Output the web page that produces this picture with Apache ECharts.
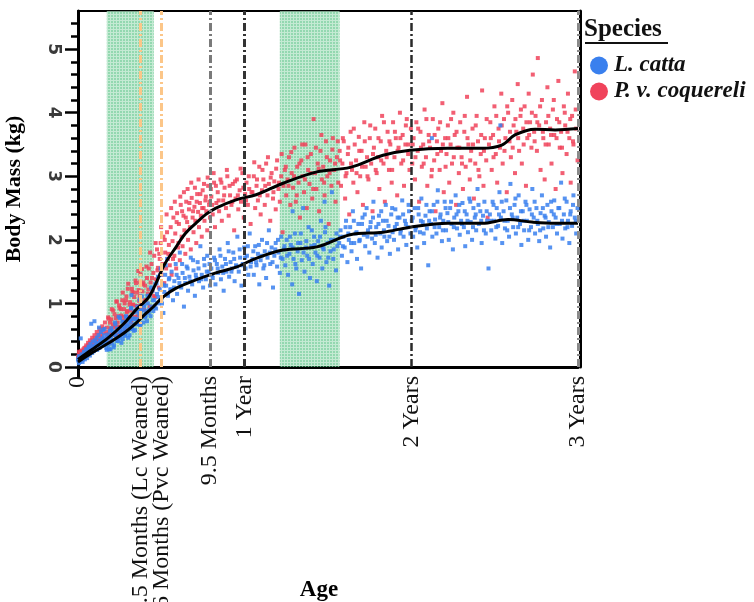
<!DOCTYPE html>
<html>
<head>
<meta charset="utf-8">
<script src="https://cdn.jsdelivr.net/npm/echarts@6/dist/echarts.min.js"></script>
<style>
html,body{margin:0;padding:0;background:#fff}
#chart{width:754px;height:602px}
</style>
</head>
<body>
<div id="chart"></div>
<script>
// Individual weighings: [age in days, body mass in kg]
const lcPoints = [
[1,0.1],[2,0.06],[3,0.15],[4,0.09],[5,0.13],[6,0.45],[7,0.11],[9,0.18],[10,0.08],[12,0.16],[14,0.22],[15,0.12],[17,0.19],[19,0.26],[20,0.14],[22,0.23],[24,0.3],[26,0.18],[28,0.27],[29,0.68],[31,0.22],[33,0.33],[35,0.25],[36,0.72],[38,0.3],[40,0.38],[42,0.27],[44,0.35],[46,0.62],[47,0.3],[49,0.42],[51,0.33],[53,0.45],[55,0.36],[57,0.5],[59,0.38],
[61,0.39],[63,0.27],[65,0.51],[67,0.35],[69,0.49],[71,0.28],[73,0.61],[75,0.42],[77,0.51],[79,0.34],[81,0.7],[83,0.5],[85,0.41],[87,0.6],[89,0.79],[91,0.46],[93,0.57],[95,0.38],[97,0.71],[99,0.56],[101,0.65],[103,0.49],[105,0.8],[107,0.64],[109,0.57],[111,0.75],[113,0.5],[115,0.71],[117,0.92],[117,1.13],[119,0.6],[121,0.76],[123,0.67],[125,0.58],[127,0.89],[129,0.76],[131,0.67],[133,0.87],[135,1.06],[137,0.67],[139,0.81],[141,0.89],
[143,0.7],[145,0.95],[147,0.78],[149,0.88],[151,0.72],[153,1.0],[155,0.85],[157,1.12],[159,0.8],[161,0.95],[163,1.2],[165,0.88],[167,1.05],[169,1.3],[171,0.92],[173,1.15],[175,1.42],[177,1.0],[179,1.22],[181,1.55],[183,1.08],[185,1.3],[187,0.85],[189,1.18],[191,1.45],[193,1.28],[195,1.7],[197,1.12],[199,1.38],
[202,1.22],[205,1.5],[208,1.05],[211,1.35],[214,1.62],[217,1.15],[220,1.4],[223,1.8],[226,1.25],[229,1.48],[232,0.95],[235,1.32],[238,1.58],[241,1.2],[244,1.42],[247,1.72],[250,1.3],[253,1.52],[256,1.12],[259,1.4],[262,1.65],[265,1.35],[268,1.9],[271,1.45],[274,1.25],[277,1.6],[280,1.38],[283,1.75],[286,1.5],[289,1.28],
[292,1.55],[295,1.4],[298,1.72],[301,1.3],[304,1.62],[307,1.48],[310,1.85],[313,1.38],[316,1.58],[319,1.2],[322,1.7],[325,1.5],[328,1.95],[331,1.42],[334,1.65],[337,1.55],[340,1.8],[343,1.35],[346,1.6],[349,2.05],[352,1.5],[355,1.72],[358,1.28],[361,1.62],[364,1.88],[367,1.55],[370,1.75],[373,1.45],[376,2.1],[379,1.65],
[382,1.7],[385,1.45],[388,1.9],[391,1.6],[394,1.78],[397,1.3],[400,1.68],[403,2.0],[406,1.55],[409,1.82],[412,1.4],[415,1.72],[418,2.15],[421,1.62],[424,1.88],[427,1.25],[430,1.75],[433,1.95],[436,1.58],[439,1.8],[442,1.48],[445,2.05],[448,1.7],
[451,1.85],[454,1.6],[457,2.0],[460,1.45],[463,1.78],[466,1.92],[469,1.3],[470,2.45],[472,1.7],[475,2.1],[478,1.55],[481,1.82],[484,1.15],[487,1.95],[490,1.68],[493,2.5],[496,1.5],[499,1.88],[502,1.75],[505,2.2],[508,1.4],[511,1.9],[514,1.62],[517,2.05],[520,1.8],[523,1.35],[526,1.98],[529,1.72],[532,2.3],[535,1.55],[538,1.85],[540,2.6],[541,2.12],[544,1.65],[547,1.95],[550,1.28],[553,1.82],[556,2.75],[559,1.7],[562,2.0],[565,1.52],[568,1.9],
[572,1.95],[575,2.15],[578,1.75],[581,2.05],[584,1.88],[587,2.3],[590,1.65],[593,2.0],[596,2.2],[599,1.82],[602,2.45],[605,1.95],[608,2.1],[611,1.7],[614,2.25],[617,2.0],[620,1.55],[623,2.35],[626,2.08],[629,1.9],[632,2.5],[635,2.15],[638,1.8],[641,2.28],[644,2.02],[647,2.6],[650,1.95],[653,2.2],[656,1.72],[659,2.38],[662,2.1],[665,1.88],[668,2.3],[671,2.05],[674,2.55],[677,1.98],[680,2.22],[683,1.78],[686,2.4],[689,2.12],[692,2.0],[695,2.48],[698,2.25],[701,1.85],[704,2.35],[707,2.15],[710,2.62],[713,2.05],[716,2.3],[719,1.92],[722,2.2],[725,2.45],[728,2.1],
[731,2.3],[734,2.05],[737,2.5],[740,2.2],[743,1.88],[746,2.4],[749,2.12],[752,2.65],[755,2.28],[758,1.95],[761,2.38],[764,2.18],[767,1.6],[770,2.45],[773,2.25],[775,3.6],[776,2.05],[779,2.55],[782,2.32],[785,2.1],[788,2.78],[791,2.2],[794,2.4],[797,1.98],[800,2.3],[803,2.6],[806,2.15],[809,2.42],[812,2.0],[815,2.5],[818,2.25],[821,1.85],[824,2.35],[827,2.7],[830,2.18],[833,2.45],[836,2.08],[839,2.3],[842,2.58],[845,2.2],[848,1.9],[851,2.4],[854,2.12],[857,2.65],[860,2.28],[863,2.0],[866,2.5],[869,2.35],[872,2.15],[875,2.8],[878,2.25],[881,2.45],[884,1.95],[887,2.38],[890,2.6],[893,2.1],[896,2.3],[899,1.55],
[902,2.4],[905,2.15],[908,2.6],[911,2.3],[914,2.02],[917,2.5],[920,2.22],[923,2.75],[925,3.8],[926,2.35],[929,1.95],[932,2.45],[935,2.18],[938,2.62],[941,2.3],[944,2.05],[947,2.88],[950,2.4],[953,2.2],[956,2.55],[959,2.1],[962,2.35],[965,2.7],[968,2.25],[971,1.92],[974,2.45],[977,2.15],[980,2.6],[983,2.3],[986,2.0],[989,2.48],[992,2.2],[995,2.8],[998,2.35],[1001,2.1],[1004,2.5],[1007,2.25],[1010,1.98],[1013,2.42],[1016,2.7],[1019,2.18],[1022,2.38],[1025,2.05],[1028,2.55],[1031,2.28],[1034,1.88],[1037,2.45],[1040,2.2],[1043,2.62],[1046,2.35],[1049,2.1],[1052,2.5],[1055,2.25],[1058,2.9],[1061,2.02],[1064,2.4],[1067,2.18],[1070,2.6],[1073,2.3],[1076,1.95],[1079,2.45],[1082,2.22],[1085,2.7],[1088,2.35],[1091,2.1],[1094,2.5],
[0,0.12],[2,0.17],[4,0.08],[6,0.14],[8,0.2],[11,0.12],[13,0.24],[16,0.16],[18,0.28],[21,0.2],[23,0.32],[25,0.24],[27,0.36],[30,0.28],[32,0.4],[34,0.3],[37,0.42],[39,0.34],[41,0.46],[43,0.36],[45,0.5],[48,0.4],[50,0.55],[52,0.42],[54,0.58],[56,0.44],[58,0.6],
[62,0.3],[64,0.46],[66,0.39],[68,0.28],[70,0.57],[72,0.46],[74,0.37],[76,0.56],[78,0.31],[80,0.52],[82,0.67],[84,0.46],[86,0.6],[88,0.41],[90,0.55],[92,0.77],[94,0.5],[96,0.63],[98,0.44],[100,0.71],[102,0.6],[104,0.51],[106,0.78],[108,0.67],[110,0.46],[112,0.73],[114,0.64],[116,0.93],[118,0.6],[120,0.76],[122,0.57],[124,0.86],[126,0.75],[128,0.68],[130,0.95],[132,0.72],[134,0.83],[136,0.66],[138,0.89],[140,1.11],
[144,0.98],[148,0.8],[152,1.12],[156,0.9],[160,1.25],[164,1.05],[168,0.95],[172,1.32],[176,1.1],[180,1.45],[184,1.0],[188,1.28],[192,1.6],[196,1.15],[200,1.4],[204,1.22],[210,1.25],[216,1.45],[222,1.32],[228,1.62],[234,1.4],[240,1.55],[246,1.35],[252,1.68],[258,1.45],[264,1.55],[270,1.38],[276,1.7],[282,1.5],[288,1.62],[294,1.45],
[300,1.68],[306,1.55],[312,1.75],[318,1.48],[324,1.62],[330,1.82],[336,1.5],[342,1.7],[348,1.58],[354,1.85],[360,1.6],[366,1.72],[372,1.9],[378,1.58],[384,1.82],[390,1.65],[396,1.92],[402,1.75],[408,1.6],[414,1.95],[420,1.8],[426,1.65],[432,1.85],[438,2.0],[444,1.72],
[452,1.9],[458,1.75],[464,2.05],[470,1.88],[476,1.62],[482,1.95],[488,2.1],[494,1.8],[500,1.98],[506,1.7],[512,2.15],[518,1.92],[524,1.75],[530,2.05],[536,1.88],[542,2.2],[548,1.72],[554,2.0],[560,1.85],[566,2.1],
[574,2.05],[580,1.9],[586,2.2],[592,2.1],[598,1.95],[604,2.3],[610,2.12],[616,1.98],[622,2.25],[628,2.4],[634,2.05],[640,2.2],[646,2.35],[652,2.08],[658,2.25],[664,2.45],[670,2.15],[676,2.3],[682,2.05],[688,2.5],[694,2.2],[700,2.35],[706,2.1],[712,2.4],[718,2.25],[724,2.55],
[733,2.35],[739,2.15],[745,2.5],[751,2.3],[757,2.1],[763,2.55],[769,2.3],[775,2.45],[781,2.2],[787,2.6],[793,2.35],[799,2.15],[805,2.5],[811,2.28],[817,2.6],[823,2.2],[829,2.4],[835,2.55],[841,2.25],[847,2.45],[853,2.3],[859,2.6],[865,2.2],[871,2.4],[877,2.55],[883,2.3],[889,2.15],[895,2.45],[904,2.3],[910,2.55],[916,2.2],[922,2.4],[928,2.6],[934,2.3],[940,2.15],[946,2.5],[952,2.35],[958,2.65],[964,2.2],[970,2.45],[976,2.3],[982,2.55],[988,2.15],[994,2.4],[1000,2.6],[1006,2.3],[1012,2.15],[1018,2.5],[1024,2.35],[1030,2.2],[1036,2.6],[1042,2.4],[1048,2.25],[1054,2.5],[1060,2.3],[1066,2.65],[1072,2.2],[1078,2.4],[1084,2.55],[1090,2.3]
];

const pvcPoints = [
[1,0.14],[2,0.19],[3,0.11],[4,0.22],[5,0.16],[7,0.25],[8,0.13],[10,0.21],[12,0.28],[13,0.17],[15,0.24],[17,0.31],[19,0.2],[21,0.29],[23,0.35],[25,0.26],[27,0.38],[30,0.31],[32,0.42],[35,0.34],[37,0.45],[40,0.39],[43,0.5],[46,0.41],[49,0.55],[52,0.47],[55,0.6],[58,0.44],
[61,0.38],[63,0.62],[65,0.51],[67,0.76],[69,0.38],[71,0.61],[73,0.75],[75,0.52],[77,0.89],[79,0.62],[81,0.5],[83,0.77],[85,1.03],[87,0.7],[89,0.63],[91,0.93],[93,0.56],[95,0.81],[97,1.05],[99,0.73],[101,0.91],[103,0.59],[105,1.05],[107,0.86],[109,1.23],[111,0.76],[113,0.98],[115,0.89],[117,0.74],[119,1.18],[121,0.98],[123,1.1],[125,0.88],[127,1.32],[129,0.96],[131,0.8],[133,1.21],[135,1.11],[137,1.46],[139,0.99],[141,1.19],[143,1.33],
[145,0.9],[147,1.28],[149,1.05],[151,1.4],[153,1.15],[155,1.55],[157,0.95],[159,1.33],[161,1.62],[163,1.2],[165,1.48],[167,1.75],[169,1.1],[171,1.38],[173,1.85],[175,1.56],[177,1.25],[179,1.7],[181,1.95],[183,1.45],[185,1.62],[187,2.05],[189,1.32],[191,1.8],[193,1.55],[195,2.12],[197,1.7],[199,1.92],
[201,1.6],[203,2.2],[205,1.45],[207,1.98],[209,2.35],[211,1.75],[213,2.1],[215,1.55],[217,2.42],[219,1.88],[221,2.25],[223,1.68],[225,2.55],[227,2.05],[229,1.9],[231,2.38],[233,2.15],[235,1.78],[237,2.6],[239,2.28],[241,2.0],[243,2.48],[245,2.2],[247,1.85],[249,2.66],[251,2.35],[253,2.12],[255,2.52],[257,2.3],[259,1.95],[261,2.72],[263,2.44],[265,2.2],[267,2.58],[269,2.38],[271,2.05],[273,2.78],[275,2.5],[277,2.3],[279,2.62],[281,2.45],[283,2.15],[285,2.85],[287,2.55],[289,2.35],
[292,2.68],[295,2.4],[298,2.9],[300,2.2],[303,2.58],[306,2.75],[309,2.45],[312,2.95],[315,2.3],[318,2.62],[321,2.82],[324,2.5],[327,3.0],[330,2.38],[333,2.7],[336,2.55],[339,2.88],[342,2.15],[345,2.65],[348,2.95],[351,2.48],[354,2.78],[357,2.6],[360,3.05],[363,2.35],[366,2.72],[369,2.9],[372,2.55],[375,2.8],[378,2.25],
[382,2.75],[385,3.0],[388,2.5],[391,2.85],[394,2.62],[397,3.15],[400,2.4],[403,2.78],[406,2.95],[409,2.55],[412,3.2],[415,2.7],[418,2.88],[421,2.3],[424,3.05],[427,2.65],[430,2.92],[433,2.48],[436,3.25],[439,2.8],[442,2.6],[445,3.0],[448,2.12],[450,2.85],
[453,3.1],[456,2.7],[459,2.95],[462,3.3],[465,2.55],[468,3.05],[471,2.82],[474,3.45],[477,2.6],[480,3.15],[483,2.9],[486,2.35],[489,3.25],[492,3.0],[495,2.75],[498,3.5],[501,2.5],[504,3.1],[507,2.88],[510,3.35],[513,2.65],[516,3.9],[519,3.05],[522,2.8],[525,3.2],[528,2.45],[531,3.4],[534,2.95],[537,3.15],[540,2.7],[543,3.55],[546,3.0],[549,2.25],[552,3.25],[555,2.85],[558,3.6],[561,3.1],[564,2.6],[567,3.3],[570,2.9],
[573,3.4],[576,2.85],[579,3.2],[582,3.55],[585,2.65],[588,3.05],[591,3.35],[594,2.4],[597,3.7],[600,3.1],[603,2.9],[606,3.5],[609,3.25],[612,2.75],[615,3.62],[618,3.0],[621,3.4],[624,2.55],[627,3.85],[630,3.15],[633,3.3],[636,2.95],[639,3.6],[642,3.2],[645,2.45],[648,3.45],[651,3.75],[654,3.05],[657,3.3],[660,2.8],[663,3.55],[666,3.95],[669,3.2],[672,2.6],[675,3.4],[678,3.7],[681,3.1],[684,3.5],[687,2.9],[690,3.85],[693,3.3],[696,3.6],[699,2.7],[702,3.45],[705,4.0],[708,3.2],[711,3.65],[714,2.85],[717,3.5],[720,3.9],[723,3.35],[726,3.1],[729,3.75],
[732,3.2],[735,3.6],[738,2.95],[741,3.85],[744,3.4],[747,2.6],[750,3.7],[753,3.15],[756,3.5],[759,4.05],[762,3.3],[765,2.85],[768,3.65],[771,3.45],[774,3.0],[777,3.9],[780,3.25],[783,2.45],[786,3.55],[789,3.75],[792,3.1],[795,3.4],[798,4.15],[801,2.75],[804,3.6],[807,3.35],[810,3.8],[813,2.9],[816,3.5],[819,3.2],[822,4.0],[825,3.65],[828,2.55],[831,3.45],[834,3.05],[837,3.85],[840,3.3],[843,2.8],[846,3.7],[849,3.15],[852,4.25],[855,3.5],[858,2.95],[861,3.4],[864,3.75],[867,2.65],[870,3.2],[873,3.95],[876,3.55],[879,3.0],[882,3.35],[885,4.35],[888,2.85],[891,3.6],[894,3.25],[897,2.35],
[900,3.5],[903,3.85],[906,3.1],[909,3.65],[912,4.1],[915,3.35],[918,2.9],[921,3.75],[924,3.45],[927,4.3],[930,3.2],[933,3.9],[936,3.6],[939,2.75],[942,4.0],[945,3.55],[948,3.3],[951,4.2],[954,3.8],[957,3.05],[960,3.7],[963,4.45],[966,3.4],[969,3.95],[972,3.2],[975,3.75],[978,4.1],[981,2.85],[984,3.6],[987,4.3],[990,3.85],[993,3.45],[996,4.6],[999,3.7],
[1002,3.95],[1005,3.4],[1007,4.86],[1010,3.8],[1013,3.1],[1016,4.2],[1019,3.6],[1022,2.95],[1025,3.85],[1028,4.4],[1031,3.5],[1034,3.75],[1037,3.2],[1040,4.05],[1043,3.65],[1046,2.8],[1049,3.9],[1052,4.5],[1055,3.45],[1058,3.7],[1061,3.05],[1064,4.1],[1067,3.8],[1070,3.35],[1073,4.3],[1076,3.6],[1079,2.9],[1082,3.95],[1085,3.5],[1088,4.65],[1091,3.75],[1094,3.25],
[0,0.16],[2,0.24],[4,0.13],[6,0.2],[9,0.26],[11,0.18],[14,0.3],[16,0.22],[18,0.34],[20,0.27],[22,0.38],[24,0.3],[26,0.42],[28,0.33],[31,0.46],[33,0.37],[36,0.5],[38,0.41],[41,0.55],[44,0.45],[47,0.6],[50,0.5],[53,0.64],[56,0.53],[59,0.7],
[62,0.55],[64,0.38],[66,0.78],[68,0.51],[70,0.7],[72,0.4],[74,0.91],[76,0.67],[78,0.52],[80,0.83],[82,0.65],[84,1.03],[86,0.51],[88,0.8],[90,0.97],[92,0.63],[94,0.91],[96,0.54],[98,1.17],[100,0.79],[102,1.0],[104,0.67],[106,1.11],[108,0.88],[110,1.31],[112,0.79],[114,1.02],[116,0.7],[118,1.23],[120,0.98],[122,1.17],[124,0.79],[126,1.36],[128,0.96],[130,1.17],[132,1.51],[134,1.04],[136,1.33],[138,0.93],[140,1.54],
[142,1.3],[146,1.05],[150,1.58],[154,1.22],[158,1.8],[162,1.4],[166,1.12],[170,1.95],[174,1.52],[178,1.78],[182,2.2],[186,1.6],[190,2.0],[194,2.4],[198,1.78],
[204,2.5],[208,1.7],[212,2.6],[216,2.28],[220,1.95],[224,2.68],[228,2.45],[232,2.75],[236,2.35],[240,2.8],[244,2.58],[248,2.9],[252,2.45],[256,2.82],[260,2.6],[264,2.95],[268,2.72],[272,2.5],[276,2.88],[280,2.68],[284,2.98],[288,2.6],[291,2.8],[294,2.55],[297,3.05],
[302,2.85],[308,2.62],[314,2.9],[320,2.7],[326,3.1],[332,2.85],[338,2.6],[344,2.92],[350,2.7],[356,3.12],[362,2.82],[368,2.62],[374,3.0],[380,2.75],[386,3.22],[392,2.95],[398,2.7],[404,3.1],[410,2.85],[416,3.3],[422,2.98],[428,2.75],[434,3.12],[440,2.9],[446,3.35],
[455,3.15],[461,2.85],[467,3.38],[473,3.0],[479,2.7],[485,3.2],[491,3.5],[497,2.95],[503,3.3],[509,3.05],[515,2.8],[521,3.45],[527,3.12],[533,3.65],[539,2.9],[545,3.3],[551,3.05],[557,3.42],[563,3.2],[569,3.55],
[574,3.25],[580,3.6],[586,3.0],[592,3.45],[598,3.2],[604,3.75],[610,3.05],[616,3.4],[622,3.15],[628,3.55],[634,3.0],[640,3.8],[646,3.35],[652,3.1],[658,3.6],[664,3.25],[670,3.85],[676,3.3],[682,3.55],[688,3.1],[694,3.7],[700,3.4],[706,3.6],[712,3.25],[718,3.8],[724,3.5],
[733,3.5],[739,3.3],[745,3.75],[751,3.45],[757,3.2],[763,3.9],[769,3.55],[775,3.1],[781,3.65],[787,3.35],[793,3.85],[799,3.5],[805,3.15],[811,3.6],[817,3.9],[823,3.3],[829,3.7],[835,3.45],[841,3.2],[847,3.95],[853,3.6],[859,3.25],[865,3.5],[871,3.8],[877,3.1],[883,3.65],[889,3.4],[895,3.9],
[904,3.6],[910,3.3],[916,3.95],[922,3.55],[928,3.8],[934,3.4],[940,4.1],[946,3.7],[952,3.45],[958,3.9],[964,3.6],[970,4.05],[976,3.5],[982,3.85],[988,3.65],[994,4.0],[1000,3.55],[1006,3.85],[1012,4.1],[1018,3.7],[1024,3.5],[1030,3.95],[1036,3.65],[1042,4.2],[1048,3.6],[1054,3.85],[1060,3.45],[1066,4.0],[1072,3.7],[1078,3.9],[1084,3.55],[1090,4.05]
];

// Smoothed growth curves: [age in days, body mass in kg]
const lcTrend = [[0,0.08],[30,0.22],[68,0.38],[100,0.53],[127,0.69],[150,0.85],[164,0.94],[186,1.1],[215,1.24],[258,1.37],[302,1.48],[346,1.57],[390,1.71],[449,1.84],[523,1.89],[596,2.08],[668,2.12],[727,2.2],[810,2.26],[885,2.26],[942,2.32],[994,2.28],[1045,2.26],[1095,2.26]];
const pvcTrend = [[0,0.12],[30,0.27],[68,0.47],[100,0.68],[127,0.9],[155,1.1],[171,1.32],[190,1.62],[215,1.89],[235,2.1],[258,2.26],[280,2.4],[302,2.5],[346,2.63],[390,2.71],[449,2.89],[523,3.07],[596,3.14],[668,3.33],[727,3.41],[810,3.44],[885,3.44],[928,3.49],[957,3.65],[1001,3.74],[1045,3.73],[1095,3.75]];

// Age milestones (days) and their axis labels
const markerDays = [0, 137, 183, 289, 365, 730, 1095];
const markerLabels = ['0', '4.5 Months (Lc Weaned)', '6 Months (Pvc Weaned)', '9.5 Months', '1 Year', '2 Years', '3 Years'];

// Shaded age windows (days)
const shadedRanges = [[63, 166], [442, 573]];

// Body-mass ticks (kg)
const yMajorTicks = [0, 1, 2, 3, 4, 5];
const yMinorTicks = [0.2,0.4,0.6,0.8,1.2,1.4,1.6,1.8,2.2,2.4,2.6,2.8,3.2,3.4,3.6,3.8,4.2,4.4,4.6,4.8,5.2,5.4];

const seriesNames = ['L. catta', 'P. v. coquereli'];
const BLUE = '#3a80ee';
const RED = '#f0435b';
const SERIF = '"Liberation Serif", "Times New Roman", serif';

// Dash-dot styling of the milestone lines (one per milestone after 0)
const milestoneStyles = [
  { color: '#fcc688', width: 3 },
  { color: '#fcc688', width: 3 },
  { color: '#7a7a7a', width: 3 },
  { color: '#333333', width: 3 },
  { color: '#2a2a2a', width: 2.5 },
  { color: '#8a8a8a', width: 3 }
];

// Mint cross-hatched fill for the shaded windows
function hatchPattern() {
  const c = document.createElement('canvas');
  c.width = 3; c.height = 3;
  const g = c.getContext('2d');
  g.fillStyle = 'rgba(40,178,98,0.5)';
  g.fillRect(0, 0, 3, 3);
  g.fillStyle = 'rgba(255,255,255,0.45)';
  g.fillRect(2, 0, 1, 3);
  g.fillRect(0, 2, 2, 1);
  return c;
}

const chart = echarts.init(document.getElementById('chart'), null, { renderer: 'canvas' });

const xMin = 0, xMax = 1095, yMin = 0, yMax = 5.6;

const option = {
  animation: false,
  backgroundColor: '#fff',
  grid: { left: 78, right: 176, top: 11, bottom: 235, show: false, containLabel: false, outerBoundsMode: 'none' },
  xAxis: [
    {
      type: 'value', min: xMin, max: xMax, position: 'bottom',
      axisLine: { show: true, lineStyle: { color: '#000', width: 3 } },
      axisTick: { show: true, customValues: [0], length: 11, lineStyle: { color: '#000', width: 3 } },
      axisLabel: {
        customValues: markerDays,
        formatter: v => markerLabels[markerDays.indexOf(v)],
        rotate: 90, margin: 9, hideOverlap: false,
        fontFamily: SERIF, fontSize: 24, color: '#111'
      },
      splitLine: { show: false }
    },
    {
      type: 'value', min: xMin, max: xMax, position: 'top',
      axisLine: { show: true, onZero: false, lineStyle: { color: '#000', width: 2 } },
      axisTick: { show: false }, axisLabel: { show: false }, splitLine: { show: false }
    }
  ],
  yAxis: [
    {
      type: 'value', min: yMin, max: yMax, position: 'left',
      name: 'Body Mass (kg)', nameLocation: 'middle', nameGap: 53, nameRotate: 90,
      nameTextStyle: { fontFamily: SERIF, fontWeight: 'bold', fontSize: 22, color: '#000' },
      axisLine: { show: true, lineStyle: { color: '#000', width: 3 } },
      axisTick: { show: true, customValues: yMajorTicks, length: 13, lineStyle: { color: '#000', width: 2.5 } },
      axisLabel: {
        customValues: yMajorTicks, rotate: -90, margin: 16,
        fontFamily: '"DejaVu Sans", sans-serif', fontWeight: 'bold', fontSize: 17, color: '#3a3a3a'
      },
      splitLine: { show: false }
    },
    {
      type: 'value', min: yMin, max: yMax, position: 'left',
      axisLine: { show: false },
      axisTick: { show: true, customValues: yMinorTicks, length: 7, lineStyle: { color: '#000', width: 2.5 } },
      axisLabel: { show: false }, splitLine: { show: false }
    },
    {
      type: 'value', min: yMin, max: yMax, position: 'right', offset: 2,
      axisLine: { show: true, onZero: false, lineStyle: { color: '#000', width: 3 } },
      axisTick: { show: false }, axisLabel: { show: false }, splitLine: { show: false }
    }
  ],
  legend: {
    orient: 'vertical', left: 585, top: 49,
    data: seriesNames,
    icon: 'circle', itemWidth: 18, itemHeight: 18, itemGap: 3,
    itemStyle: { opacity: 1 },
    textStyle: { fontFamily: SERIF, fontWeight: 'bold', fontStyle: 'italic', fontSize: 23, color: '#111', padding: [0, 0, 0, 1] }
  },
  graphic: [
    {
      type: 'text', left: 584, top: 17, z: 10,
      style: { text: 'Species', font: 'bold 25px ' + SERIF, fill: '#111' }
    },
    {
      type: 'line', z: 10,
      shape: { x1: 585, y1: 43, x2: 668, y2: 43 },
      style: { stroke: '#111', lineWidth: 2 }
    },
    {
      type: 'text', x: 319, y: 590, z: 10,
      style: { text: 'Age', font: 'bold 23px ' + SERIF, fill: '#000', align: 'center', verticalAlign: 'middle' }
    }
  ],
  series: [
    {
      name: seriesNames[1], type: 'scatter', data: pvcPoints, z: 2,
      symbol: 'rect', symbolSize: 4,
      itemStyle: { color: RED, opacity: 0.85 }
    },
    {
      name: seriesNames[0], type: 'scatter', data: lcPoints, z: 2,
      symbol: 'rect', symbolSize: 4,
      itemStyle: { color: BLUE, opacity: 0.85 }
    },
    {
      name: 'Lc curve', type: 'line', data: lcTrend, z: 3, smooth: 0.35,
      showSymbol: false, lineStyle: { color: '#000', width: 3 }
    },
    {
      name: 'Pvc curve', type: 'line', data: pvcTrend, z: 3, smooth: 0.35,
      showSymbol: false, lineStyle: { color: '#000', width: 3 }
    },
    {
      name: 'milestones', type: 'line', data: [], z: 4,
      markLine: {
        silent: true, symbol: 'none', animation: false,
        label: { show: false },
        data: markerDays.slice(1).map((d, i) => ({
          xAxis: d,
          lineStyle: { color: milestoneStyles[i].color, width: milestoneStyles[i].width, type: [8, 3, 2, 3] }
        }))
      }
    },
    {
      name: 'windows', type: 'line', data: [], z: 5,
      markArea: {
        silent: true,
        itemStyle: { color: { image: hatchPattern(), repeat: 'repeat' } },
        data: shadedRanges.map(r => [{ xAxis: r[0] }, { xAxis: r[1] }])
      }
    }
  ]
};

chart.setOption(option);
</script>
</body>
</html>
